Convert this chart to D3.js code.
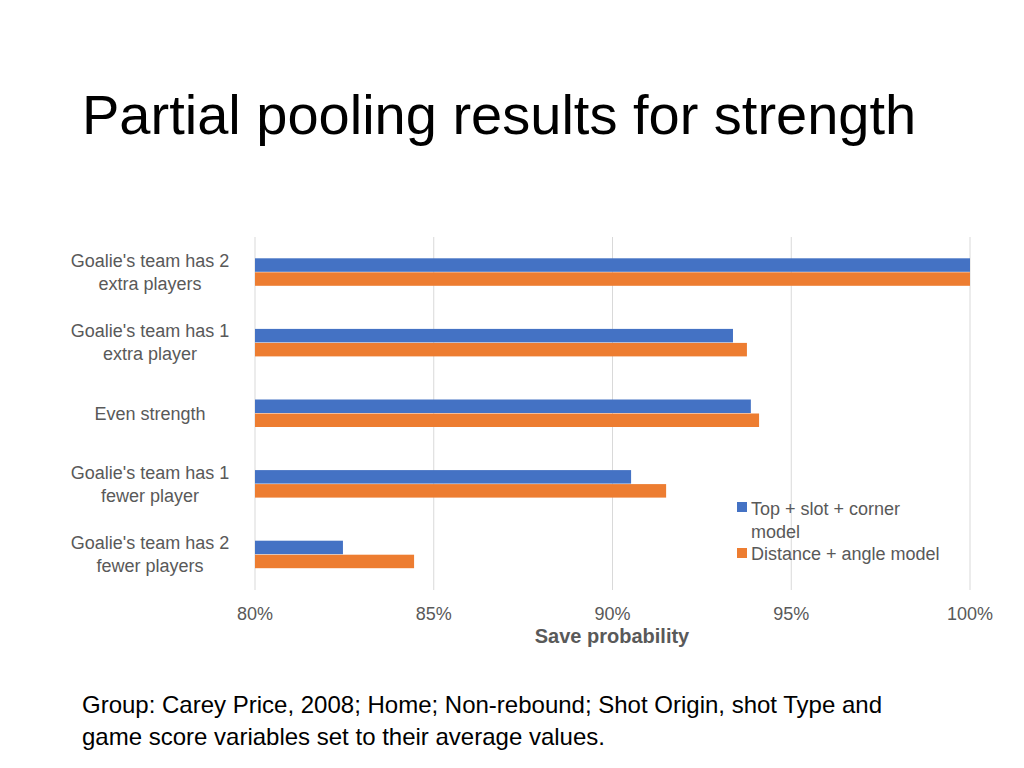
<!DOCTYPE html>
<html><head><meta charset="utf-8">
<script src="https://cdn.jsdelivr.net/npm/d3@7"></script>
<style>body{margin:0;background:#fff}svg{display:block}</style>
</head><body>
<script>
const categories = [["Goalie's team has 2","extra players"],["Goalie's team has 1","extra player"],["Even strength"],["Goalie's team has 1","fewer player"],["Goalie's team has 2","fewer players"]];
const seriesNames = ["Top + slot + corner model","Distance + angle model"];
const topSlotCorner = [1.00, 0.9337, 0.9387, 0.9052, 0.8246];
const distanceAngle = [1.00, 0.9376, 0.9410, 0.9150, 0.8445];
const ticks = [0.80,0.85,0.90,0.95,1.00];
const colors = ["#4472C4","#ED7D31"];

const svg = d3.select("body").append("svg").attr("width",1024).attr("height",768);
const font = "Liberation Sans, Arial, sans-serif";
svg.append("text").attr("x",82).attr("y",134).attr("font-family",font).attr("font-size",56).attr("fill","#000").text("Partial pooling results for strength");

const x = d3.scaleLinear().domain([0.8,1.0]).range([255,970]);
const y = d3.scaleBand().domain(d3.range(categories.length)).range([237,590]);
const inner = d3.scaleBand().domain([0,1]).range([y.bandwidth()/2-14, y.bandwidth()/2+14]);

svg.append("g").selectAll("line").data(ticks).join("line")
  .attr("x1",d=>x(d)).attr("x2",d=>x(d)).attr("y1",237).attr("y2",590)
  .attr("stroke","#d9d9d9").attr("stroke-width",1);

const series=[topSlotCorner,distanceAngle];
series.forEach((vals,s)=>{
  svg.append("g").selectAll("rect").data(vals).join("rect")
    .attr("x",x(0.8)).attr("y",(d,i)=>y(i)+inner(s))
    .attr("width",d=>x(d)-x(0.8)).attr("height",inner.bandwidth()-0.5)
    .attr("fill",colors[s]);
});

const cl = svg.append("g");
categories.forEach((c,i)=>{
  const cy = y(i)+y.bandwidth()/2;
  const t = cl.append("text").attr("text-anchor","middle").attr("font-family",font).attr("font-size",18).attr("fill","#595959");
  c.forEach((line,j)=>{
    t.append("tspan").attr("x",150).attr("y",cy+6+(j-(c.length-1)/2)*23).text(line);
  });
});

svg.append("g").selectAll("text").data(ticks).join("text")
  .attr("x",d=>x(d)).attr("y",620).attr("text-anchor","middle").attr("font-family",font).attr("font-size",18).attr("fill","#595959")
  .text(d=>d3.format(".0%")(d));
svg.append("text").attr("x",612).attr("y",643).attr("text-anchor","middle").attr("font-family",font).attr("font-size",20).attr("font-weight","bold").attr("fill","#595959").text("Save probability");

const lg = svg.append("g");
lg.append("rect").attr("x",737).attr("y",502).attr("width",10).attr("height",10).attr("fill",colors[0]);
lg.append("text").attr("x",751).attr("y",515).attr("font-family",font).attr("font-size",18).attr("fill","#595959").text("Top + slot + corner");
lg.append("text").attr("x",751).attr("y",538).attr("font-family",font).attr("font-size",18).attr("fill","#595959").text("model");
lg.append("rect").attr("x",737).attr("y",548).attr("width",10).attr("height",10).attr("fill",colors[1]);
lg.append("text").attr("x",751).attr("y",560).attr("font-family",font).attr("font-size",18).attr("fill","#595959").text(seriesNames[1]);

svg.append("text").attr("x",82).attr("y",713).attr("font-family",font).attr("font-size",24).attr("fill","#000").text("Group: Carey Price, 2008; Home; Non-rebound; Shot Origin, shot Type and");
svg.append("text").attr("x",82).attr("y",745).attr("font-family",font).attr("font-size",24).attr("fill","#000").text("game score variables set to their average values.");
</script>
</body></html>
